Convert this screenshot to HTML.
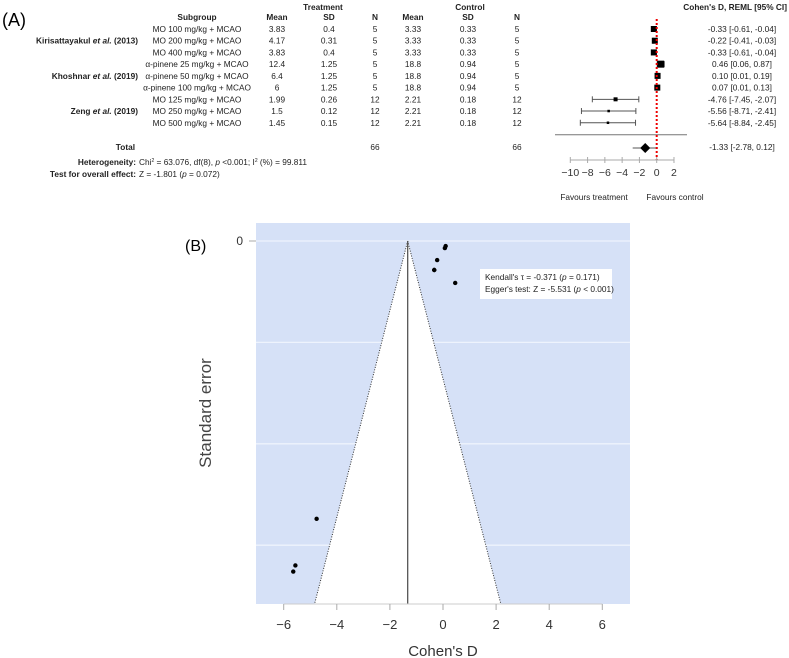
<!DOCTYPE html>
<html><head><meta charset="utf-8"><style>
body{margin:0;background:#fff;}
svg{display:block;font-family:"Liberation Sans","DejaVu Sans",sans-serif;}
</style></head><body>
<svg id="fig" width="789" height="658" viewBox="0 0 789 658">
<text x="2" y="26" font-size="18">(A)</text>
<g id="forest"></g>
<text x="185" y="251" font-size="16">(B)</text>
<g id="funnel"></g>
</svg>
<script>
const subgroups=["MO 100 mg/kg + MCAO","MO 200 mg/kg + MCAO","MO 400 mg/kg + MCAO","α-pinene 25 mg/kg + MCAO","α-pinene 50 mg/kg + MCAO","α-pinene 100 mg/kg + MCAO","MO 125 mg/kg + MCAO","MO 250 mg/kg + MCAO","MO 500 mg/kg + MCAO"];
const tMean=["3.83","4.17","3.83","12.4","6.4","6","1.99","1.5","1.45"];
const tSD=["0.4","0.31","0.4","1.25","1.25","1.25","0.26","0.12","0.15"];
const tN=[5,5,5,5,5,5,12,12,12];
const cMean=["3.33","3.33","3.33","18.8","18.8","18.8","2.21","2.21","2.21"];
const cSD=["0.33","0.33","0.33","0.94","0.94","0.94","0.18","0.18","0.18"];
const cN=[5,5,5,5,5,5,12,12,12];
const effect=[-0.33,-0.22,-0.33,0.46,0.10,0.07,-4.76,-5.56,-5.64];
const ciLow=[-0.61,-0.41,-0.61,0.06,0.01,0.01,-7.45,-8.71,-8.84];
const ciHigh=[-0.04,-0.03,-0.04,0.87,0.19,0.13,-2.07,-2.41,-2.45];
const weight=[6,6,6,7,6,6,4,2.5,2.5];
const totalEffect=-1.33, totalLow=-2.78, totalHigh=0.12;
const forestTicks=[-10,-8,-6,-4,-2,0,2];
const studyErr=[0.143,0.094,0.143,0.207,0.025,0.035,1.37,1.60,1.63];
const funnelXTicks=[-6,-4,-2,0,2,4,6];
const ns="http://www.w3.org/2000/svg";
function mk(p,tag,attrs,txt){const e=document.createElementNS(ns,tag);for(const k in attrs)e.setAttribute(k,attrs[k]);if(txt!==undefined)e.textContent=txt;p.appendChild(e);return e;}
// forest
const F=document.getElementById('forest');
const fx=v=>656.7+v*8.64;
const rowY=i=>29+i*11.72;
const fs=8.3;
function t(x,y,s,anchor,name,bold){const e=mk(F,'text',{x:x,y:y+3,'font-size':fs,'text-anchor':anchor||'middle','font-weight':bold?'bold':'normal',fill:'#222'},s);

return e;}
t(323,7,"Treatment","middle","treatment-header",true);
t(470,7,"Control","middle","control-header",true);
t(787,7,"Cohen's D, REML [95% CI]","end","effect-header",true);
t(197,17,"Subgroup","middle","subgroup-header",true);
t(277,17,"Mean","middle","treatment-mean-header",true);
t(329,17,"SD","middle","treatment-sd-header",true);
t(375,17,"N","middle","treatment-n-header",true);
t(413,17,"Mean","middle","control-mean-header",true);
t(468,17,"SD","middle","control-sd-header",true);
t(517,17,"N","middle","control-n-header",true);
const authors=[["Kirisattayakul ","et al.","(2013)",1],["Khoshnar ","et al.","(2019)",4],["Zeng ","et al.","(2019)",7]];
authors.forEach(a=>{const e=mk(F,'text',{x:138,y:rowY(a[3])+3,'font-size':fs,'text-anchor':'end','font-weight':'bold',fill:'#222'});


mk(e,'tspan',{},a[0]);mk(e,'tspan',{'font-style':'italic'},a[1]);mk(e,'tspan',{},"  "+a[2]);});
for(let i=0;i<subgroups.length;i++){const y=rowY(i);
t(197,y,subgroups[i],"middle","subgroup-label");
t(277,y,tMean[i],"middle","treatment-mean");
t(329,y,tSD[i],"middle","treatment-sd");
t(375,y,tN[i],"middle","treatment-n");
t(413,y,cMean[i],"middle","control-mean");
t(468,y,cSD[i],"middle","control-sd");
t(517,y,cN[i],"middle","control-n");
t(742,y,effect[i].toFixed(2)+" ["+ciLow[i].toFixed(2)+", "+ciHigh[i].toFixed(2)+"]","middle","effect-ci-text");
const l=mk(F,'line',{x1:fx(ciLow[i]),x2:fx(ciHigh[i]),y1:y,y2:y,stroke:'#555','stroke-width':1});


[ciLow[i],ciHigh[i]].forEach(v=>{const c=mk(F,'line',{x1:fx(v),x2:fx(v),y1:y-3,y2:y+3,stroke:'#555','stroke-width':1});

});
const w=weight[i];
const r=mk(F,'rect',{x:fx(effect[i])-w/2,y:y-w/2,width:w,height:w,fill:'#000'});

}
const sep=mk(F,'line',{x1:555,x2:687,y1:134.7,y2:134.7,stroke:'#777','stroke-width':1});


const ty=148;
t(135,147,"Total","end","total-label",true);
t(375,147,"66","middle","treatment-total-n");
t(517,147,"66","middle","control-total-n");
t(742,147,totalEffect.toFixed(2)+" ["+totalLow.toFixed(2)+", "+totalHigh.toFixed(2)+"]","middle","total-effect-text");
const tl=mk(F,'line',{x1:fx(totalLow),x2:fx(totalHigh),y1:ty,y2:ty,stroke:'#555'});


const cx=fx(totalEffect);
const dm=mk(F,'polygon',{points:`${cx-5},${ty} ${cx},${ty-5} ${cx+5},${ty} ${cx},${ty+5}`,fill:'#000'});


const rl=mk(F,'line',{x1:fx(0),x2:fx(0),y1:19,y2:160,stroke:'#e00','stroke-width':2,'stroke-dasharray':'2,2'});


const ax=mk(F,'line',{x1:fx(-10),x2:fx(2),y1:160,y2:160,stroke:'#aaa'});


forestTicks.forEach(v=>{const k=mk(F,'line',{x1:fx(v),x2:fx(v),y1:157,y2:163,stroke:'#aaa'});


const lb=mk(F,'text',{x:fx(v),y:176,'font-size':10.5,'text-anchor':'middle',fill:'#333'},v<0?"−"+(-v):String(v));

});
t(594,197,"Favours treatment","middle","favours-treatment-label");
t(675,197,"Favours control","middle","favours-control-label");
const h=mk(F,'text',{x:136,y:165,'font-size':fs,'text-anchor':'end',fill:'#222'});


mk(h,'tspan',{'font-weight':'bold'},"Heterogeneity:");
const h2=mk(F,'text',{x:139,y:165,'font-size':fs,fill:'#222'});


mk(h2,'tspan',{},"Chi");mk(h2,'tspan',{'font-size':5,dy:-3},"2");mk(h2,'tspan',{dy:3},' = 63.076, df(8), ');mk(h2,'tspan',{'font-style':'italic'},'p');mk(h2,'tspan',{},' <0.001; I');mk(h2,'tspan',{'font-size':5,dy:-3},"2");mk(h2,'tspan',{dy:3},' (%) = 99.811');
t(136,174,"Test for overall effect:","end","overall-effect-label",true);
const o=mk(F,'text',{x:139,y:177,'font-size':fs,fill:'#222'});


mk(o,'tspan',{},"Z = -1.801 (");mk(o,'tspan',{'font-style':'italic'},"p");mk(o,'tspan',{}," = 0.072)");
// funnel
const G=document.getElementById('funnel');
const gx=v=>443+v*26.55;
const gy=s=>241+s*202.8;
const L=256,R=630,T=223,B=604;
const bg=mk(G,'rect',{x:L,y:T,width:R-L,height:B-T,fill:'#d6e1f7'});


[0,0.5,1,1.5].forEach(s=>{const g=mk(G,'line',{x1:L,x2:R,y1:gy(s),y2:gy(s),stroke:'#eef3fd','stroke-width':1.3});

});
const seMax=(B-241)/202.8;
const tri=mk(G,'polygon',{points:`${gx(totalEffect)},${gy(0)} ${gx(totalEffect-1.96*seMax)},${B} ${gx(totalEffect+1.96*seMax)},${B}`,fill:'#fff'});


[-1,1].forEach(sg=>{const d=mk(G,'line',{x1:gx(totalEffect),y1:gy(0),x2:gx(totalEffect+sg*1.96*seMax),y2:B,stroke:'#333','stroke-width':1,'stroke-dasharray':'1,1.5'});

});
const vl=mk(G,'line',{x1:gx(totalEffect),x2:gx(totalEffect),y1:gy(0),y2:B,stroke:'#555','stroke-width':1.3});


for(let i=0;i<effect.length;i++){const c=mk(G,'circle',{cx:gx(effect[i]),cy:gy(studyErr[i]),r:2.2,fill:'#000'});

}
const xa=mk(G,'line',{x1:gx(-6),x2:gx(6),y1:B,y2:B,stroke:'#ccc'});


funnelXTicks.forEach(v=>{const k=mk(G,'line',{x1:gx(v),x2:gx(v),y1:B,y2:B+6,stroke:'#aaa'});


const lb=mk(G,'text',{x:gx(v),y:629,'font-size':13,'text-anchor':'middle',fill:'#333'},v<0?"−"+(-v):String(v));

});
const yt=mk(G,'line',{x1:249,x2:256,y1:gy(0),y2:gy(0),stroke:'#aaa'});


const y0=mk(G,'text',{x:243,y:gy(0)+4,'font-size':12,'text-anchor':'end',fill:'#333'},"0");


const xt=mk(G,'text',{x:443,y:656,'font-size':15,'text-anchor':'middle',fill:'#333'},"Cohen's D");


const ytl=mk(G,'text',{x:0,y:0,'font-size':17,'text-anchor':'middle',fill:'#444',transform:'translate(211,413) rotate(-90)'},"Standard error");


const box=mk(G,'rect',{x:480,y:269,width:132,height:30,fill:'#fff'});


const k1=mk(G,'text',{x:485,y:280,'font-size':8.3,fill:'#222'});


mk(k1,'tspan',{},"Kendall's τ = -0.371 (");mk(k1,'tspan',{'font-style':'italic'},"p");mk(k1,'tspan',{}," = 0.171)");
const k2=mk(G,'text',{x:485,y:292,'font-size':8.3,fill:'#222'});


mk(k2,'tspan',{},"Egger's test: Z = -5.531 (");mk(k2,'tspan',{'font-style':'italic'},"p");mk(k2,'tspan',{}," < 0.001)");
</script>
</body></html>
